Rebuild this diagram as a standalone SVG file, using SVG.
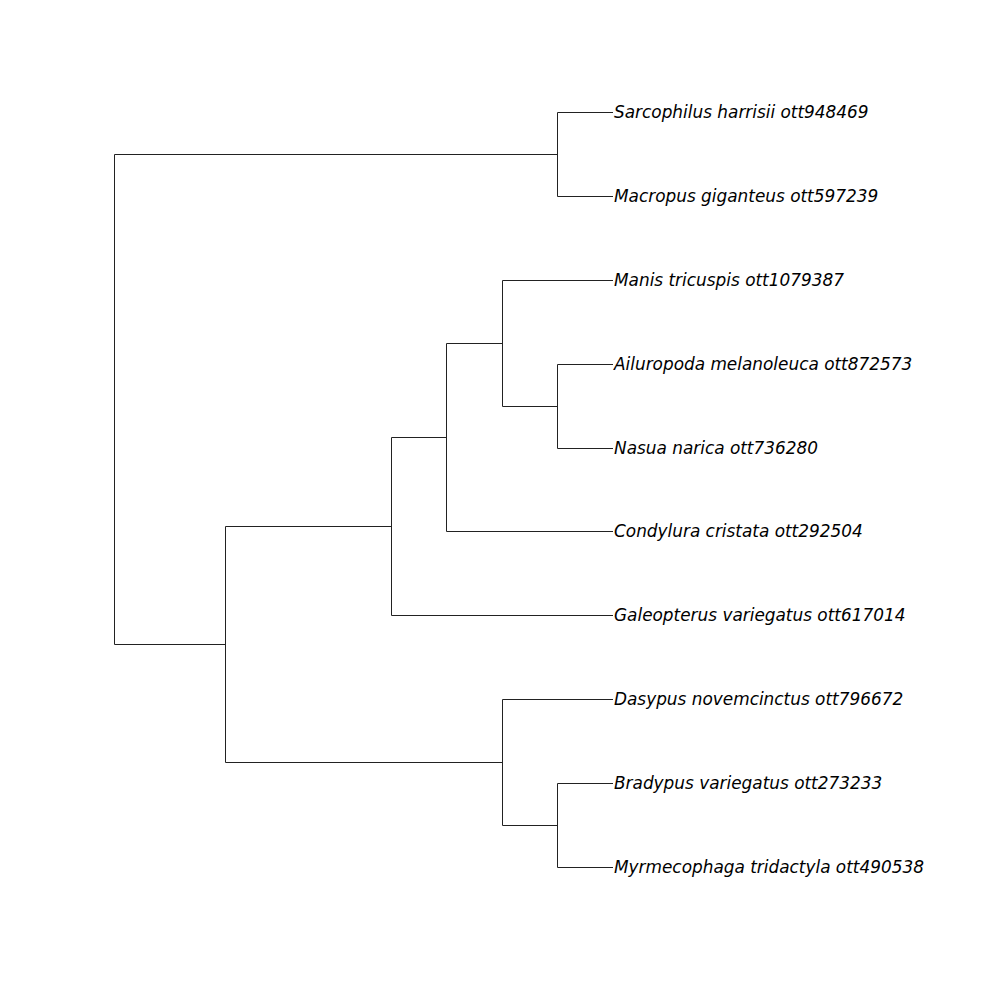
<svg xmlns="http://www.w3.org/2000/svg" width="1000" height="1000" viewBox="0 0 1000 1000">
<style>
.e{fill:none;stroke:#222;stroke-width:1}
.t{font-family:"DejaVu Sans",sans-serif;font-style:italic;font-size:16.9px;fill:#000;dominant-baseline:central}
</style>
<rect width="1000" height="1000" fill="#fff"/>
<g id="connectors">
<path class="e" d="M114.5 154.5V644.5M114.5 154.5H557.5M114.5 644.5H225.5"/>
<path class="e" d="M557.5 112.5V196.5M557.5 112.5H613M557.5 196.5H613"/>
<path class="e" d="M225.5 526.5V762.5M225.5 526.5H391.5M225.5 762.5H502.5"/>
<path class="e" d="M391.5 437.5V615.5M391.5 437.5H446.5M391.5 615.5H613"/>
<path class="e" d="M446.5 343.5V531.5M446.5 343.5H502.5M446.5 531.5H613"/>
<path class="e" d="M502.5 280.5V406.5M502.5 280.5H613M502.5 406.5H557.5"/>
<path class="e" d="M557.5 364.5V448.5M557.5 364.5H613M557.5 448.5H613"/>
<path class="e" d="M502.5 699.5V825.5M502.5 699.5H613M502.5 825.5H557.5"/>
<path class="e" d="M557.5 783.5V867.5M557.5 783.5H613M557.5 867.5H613"/>
</g>
<g id="leaf-sarcophilus"><text class="t" x="614" y="112">Sarcophilus harrisii ott948469</text></g>
<g id="leaf-macropus"><text class="t" x="614" y="196">Macropus giganteus ott597239</text></g>
<g id="leaf-manis"><text class="t" x="614" y="280">Manis tricuspis ott1079387</text></g>
<g id="leaf-ailuropoda"><text class="t" x="614" y="364">Ailuropoda melanoleuca ott872573</text></g>
<g id="leaf-nasua"><text class="t" x="614" y="448">Nasua narica ott736280</text></g>
<g id="leaf-condylura"><text class="t" x="614" y="531">Condylura cristata ott292504</text></g>
<g id="leaf-galeopterus"><text class="t" x="614" y="615">Galeopterus variegatus ott617014</text></g>
<g id="leaf-dasypus"><text class="t" x="614" y="699">Dasypus novemcinctus ott796672</text></g>
<g id="leaf-bradypus"><text class="t" x="614" y="783">Bradypus variegatus ott273233</text></g>
<g id="leaf-myrmecophaga"><text class="t" x="614" y="867">Myrmecophaga tridactyla ott490538</text></g>
</svg>
